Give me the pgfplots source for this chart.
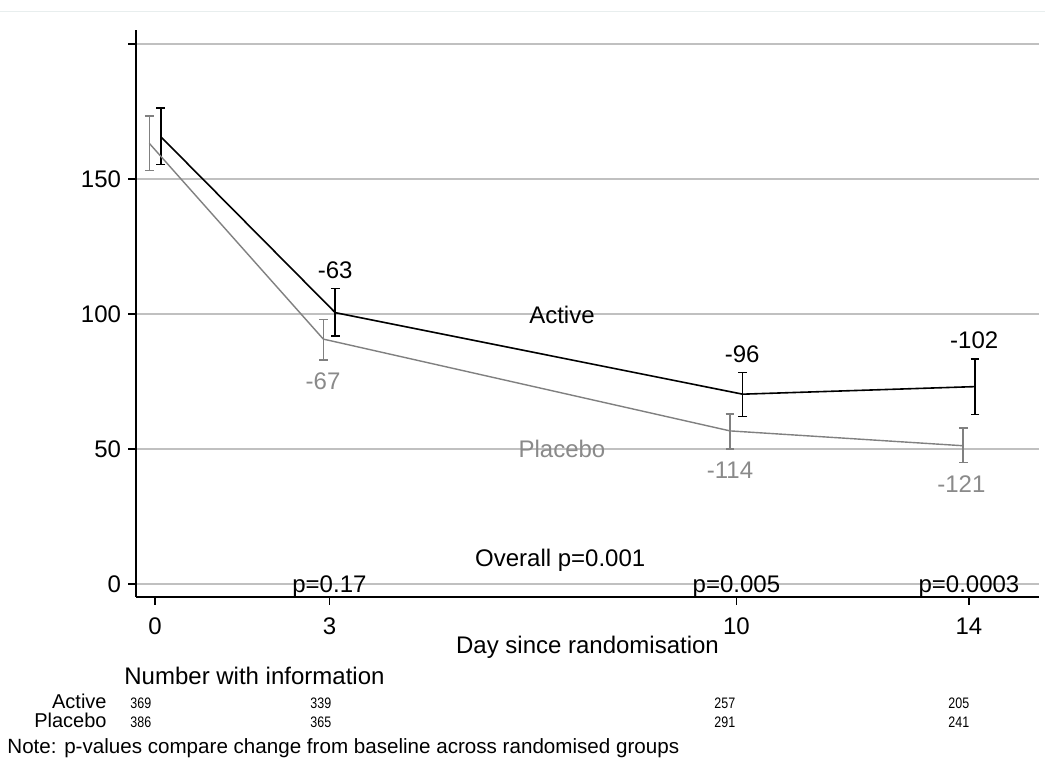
\documentclass[border=0pt]{standalone}
\usepackage{fontspec}
\setmainfont{Liberation Sans}
\newfontfamily\condfont[FakeStretch=0.82]{Liberation Sans}
\usepackage{pgfplots}
\pgfplotsset{compat=1.18}
\definecolor{gridc}{RGB}{192,192,192}
\definecolor{plac}{RGB}{128,128,128}
\definecolor{placlab}{RGB}{138,138,138}
\definecolor{frame}{RGB}{232,238,238}
\newcommand{\mainf}{\fontsize{12bp}{14bp}\selectfont}
\begin{document}
\begin{tikzpicture}[x=0.5bp,y=0.5bp]
\useasboundingbox (0,0) rectangle (1045,772);
\fill[white] (0,0) rectangle (1045,772);
\draw[frame, line width=0.5bp] (0,760) -- (1045,760);
\begin{axis}[
  at={(68bp,87.5bp)}, anchor=south west,
  scale only axis, width=451.5bp, height=283.5bp,
  xmin=-0.3268, xmax=15.205, ymin=-4.815, ymax=205.19,
  axis x line*=bottom, axis y line*=left,
  axis line style={line width=0.6bp, -},
  xtick={0,3,10,14}, xticklabels={0,3,10,14},
  ytick={0,50,100,150,200}, yticklabels={0,50,100,150,{}},
  tick align=outside, major tick length=4bp,
  tick style={black, line width=0.6bp},
  ymajorgrids, grid style={gridc, line width=0.75bp},
  ticklabel style={font=\mainf},
  xticklabel style={yshift=-3bp},
  /pgf/number format/assume math mode=true,
  clip=false,
]
\addplot[black, line width=0.8bp,
  error bars/.cd, y dir=both, y explicit, error mark=-,
  error bar style={line width=0.8bp, black},
  error mark options={rotate=90, black, mark size=2.2bp, line width=0.8bp}]
  coordinates {
  (0.098,165.7) += (0,10.7) -= (0,10.3)
  (3.10,100.5) += (0,8.9) -= (0,8.6)
  (10.108,70.3) += (0,8.0) -= (0,8.3)
  (14.104,73.1) += (0,10.2) -= (0,10.3)
  };
\addplot[plac, line width=0.7bp,
  error bars/.cd, y dir=both, y explicit, error mark=-,
  error bar style={line width=0.7bp, plac},
  error mark options={rotate=90, plac, mark size=2.2bp, line width=0.7bp}]
  coordinates {
  (-0.098,163.2) += (0,10.2) -= (0,10.0)
  (2.895,90.7) += (0,7.3) -= (0,7.7)
  (9.89,56.7) += (0,6.3) -= (0,6.7)
  (13.90,51.2) += (0,6.5) -= (0,6.1)
  };
\begin{scope}[every node/.style={font=\mainf, inner sep=0pt, anchor=base}]
\node at (axis cs:3.10,113.3) {-63};
\node at (axis cs:10.10,82.2) {-96};
\node at (axis cs:14.09,87.3) {-102};
\node[placlab] at (axis cs:2.89,72.2) {-67};
\node[placlab] at (axis cs:9.89,38.9) {-114};
\node[placlab] at (axis cs:13.87,34.0) {-121};
\node at (axis cs:7.0,96.3) {Active};
\node[placlab] at (axis cs:7.0,46.7) {Placebo};
\node at (axis cs:6.97,6.3) {Overall p=0.001};
\node at (axis cs:3,-3.3) {p=0.17};
\node at (axis cs:10,-3.3) {p=0.005};
\node at (axis cs:14,-3.3) {p=0.0003};
\end{scope}
\end{axis}
\begin{scope}[every node/.style={inner sep=0pt}]
\node[anchor=base, font=\mainf] at (587.5,118) {Day since randomisation};
\node[anchor=base west, font=\mainf] at (124,87) {Number with information};
\node[anchor=base east, font=\fontsize{10bp}{12bp}\selectfont] at (107,63) {Active};
\node[anchor=base east, font=\fontsize{10bp}{12bp}\selectfont] at (107,44) {Placebo};
\begin{scope}[every node/.style={inner sep=0pt, anchor=base west, font=\condfont\fontsize{7.6bp}{9bp}\selectfont}]
\node at (130,63) {369};
\node at (310,63) {339};
\node at (714,63) {257};
\node at (948,63) {205};
\node at (130,44) {386};
\node at (310,44) {365};
\node at (714,44) {291};
\node at (948,44) {241};
\end{scope}
\node[anchor=base west, font=\fontsize{10.3bp}{12bp}\selectfont] at (7,18) {Note: p-values compare change from baseline across randomised groups};
\end{scope}
\end{tikzpicture}
\end{document}
